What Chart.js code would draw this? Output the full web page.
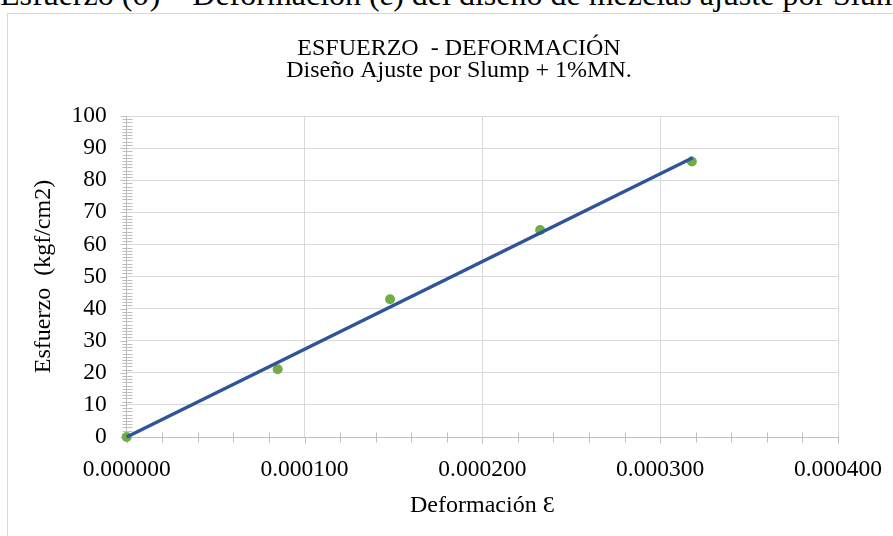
<!DOCTYPE html>
<html>
<head>
<meta charset="utf-8">
<script src="https://cdn.jsdelivr.net/npm/chart.js@4/dist/chart.umd.min.js"></script>
<style>
    html, body {
        margin: 0;
        padding: 0;
        width: 893px;
        height: 536px;
        overflow: hidden;
        background: #fff;
    }
    #heading {
        position: absolute;
        left: 0;
        top: -22px;
        font: 32px/32px "Liberation Serif", serif;
        white-space: nowrap;
        color: #000;
    }
    #frame {
        position: absolute;
        left: 7px;
        top: 13px;
        width: 902px;
        height: 530px;
        border: 1px solid #d9d9d9;
    }
    #chart {
        display: block;
    }
</style>
</head>
<body>
<div id="heading">Esfuerzo (σ) – Deformación (ε) del diseño de mezclas ajuste por Slump + 1%MN.</div>
<div id="frame"><canvas id="chart" width="902" height="530"></canvas></div>
<script>
(function() {
    // measured points (strain, stress)
    const strain = [0, 0.0000849, 0.0001481, 0.0002325, 0.0003178];
    const stress = [0, 21.1, 42.9, 64.5, 85.8];

    // linear trendline ends
    const trendStrain = [0, 0.0003183];
    const trendStress = [0, 87.0];

    const xRange = [0, 0.0004];
    const yRange = [0, 100];
    const xStep = 0.0001;
    const yStep = 10;

    const serif = '"Liberation Serif", "Times New Roman", serif';
    const gridColour = '#d9d9d9';
    const axisColour = '#bfbfbf';

    function toPoints(xs, ys) {
        return xs.map((x, i) => ({x: x, y: ys[i]}));
    }

    // Excel style cross tick marks, major and minor
    const axisMarks = {
        id: 'axisMarks',
        beforeDatasetsDraw(chart) {
            const ctx = chart.ctx;
            const x = chart.scales.x;
            const y = chart.scales.y;
            const area = chart.chartArea;
            ctx.save();
            ctx.strokeStyle = axisColour;
            ctx.lineWidth = 1;
            ctx.beginPath();

            const xMinor = xStep / 5;
            const xCount = Math.round((x.max - x.min) / xMinor);
            const by = Math.round(area.bottom) + 0.5;
            for (let i = 0; i <= xCount; i++) {
                const px = Math.round(x.getPixelForValue(x.min + i * xMinor)) + 0.5;
                if (i % 5 === 0) {
                    ctx.moveTo(px, by);
                    ctx.lineTo(px, by + 6);
                } else {
                    ctx.moveTo(px, by - 5);
                    ctx.lineTo(px, by + 5);
                }
            }

            const yMinor = yStep / 10;
            const yCount = Math.round((y.max - y.min) / yMinor);
            const lx = Math.round(area.left) + 0.5;
            for (let i = 0; i <= yCount; i++) {
                const py = Math.round(y.getPixelForValue(y.min + i * yMinor)) + 0.5;
                if (i % 10 === 0) {
                    ctx.moveTo(lx - 7, py);
                    ctx.lineTo(lx, py);
                } else {
                    ctx.moveTo(lx - 5, py);
                    ctx.lineTo(lx + 5, py);
                }
            }
            ctx.stroke();
            ctx.restore();
        },
    };

    new Chart(document.getElementById('chart'), {
        type: 'scatter',
        data: {
            datasets: [
                {
                    label: 'Lineal',
                    data: toPoints(trendStrain, trendStress),
                    showLine: true,
                    borderColor: '#2F5597',
                    borderWidth: 3.5,
                    pointRadius: 0,
                    fill: false,
                    clip: false,
                },
                {
                    label: 'Esfuerzo',
                    data: toPoints(strain, stress),
                    backgroundColor: '#70AD47',
                    borderColor: '#70AD47',
                    borderWidth: 0,
                    pointRadius: 5,
                    clip: false,
                },
            ],
        },
        options: {
            responsive: false,
            animation: false,
            devicePixelRatio: 1,
            layout: {
                padding: 0,
            },
            plugins: {
                legend: {display: false},
                tooltip: {enabled: false},
                title: {
                    display: true,
                    text: 'ESFUERZO  - DEFORMACIÓN',
                    color: '#000',
                    font: {family: serif, size: 24, weight: 'normal', lineHeight: '22px'},
                    padding: {top: 24, bottom: 0},
                },
                subtitle: {
                    display: true,
                    text: 'Diseño Ajuste por Slump + 1%MN.',
                    color: '#000',
                    font: {family: serif, size: 24, weight: 'normal', lineHeight: '22px'},
                    padding: {top: 0, bottom: 34},
                },
            },
            scales: {
                x: {
                    type: 'linear',
                    min: xRange[0],
                    max: xRange[1],
                    afterFit(scale) {
                        scale.height = 107;
                    },
                    grid: {
                        color: gridColour,
                        drawTicks: false,
                    },
                    border: {color: axisColour},
                    ticks: {
                        stepSize: xStep,
                        padding: 19,
                        color: '#000',
                        font: {family: serif, size: 23.5},
                        maxRotation: 0,
                        callback: value => Number(value).toFixed(6),
                    },
                    title: {
                        display: true,
                        text: 'Deformación Ɛ',
                        color: '#000',
                        font: {family: serif, size: 24},
                        padding: {top: 0, bottom: 23.6},
                    },
                },
                y: {
                    type: 'linear',
                    min: yRange[0],
                    max: yRange[1],
                    afterFit(scale) {
                        scale.width = 118.7;
                    },
                    grid: {
                        color: gridColour,
                        drawTicks: false,
                    },
                    border: {color: axisColour},
                    ticks: {
                        stepSize: yStep,
                        padding: 20,
                        color: '#000',
                        font: {family: serif, size: 23.5},
                    },
                    title: {
                        display: true,
                        text: 'Esfuerzo  (kgf/cm2)',
                        color: '#000',
                        font: {family: serif, size: 24},
                        padding: {top: 21.6, bottom: 0},
                    },
                },
                // empty right axis, only keeps the plot clear of the frame's right side
                yRight: {
                    type: 'linear',
                    position: 'right',
                    min: yRange[0],
                    max: yRange[1],
                    afterFit(scale) {
                        scale.width = 72;
                    },
                    grid: {display: false, drawTicks: false},
                    border: {display: false},
                    ticks: {display: false},
                },
            },
        },
        plugins: [axisMarks],
    });
})();
</script>
</body>
</html>
